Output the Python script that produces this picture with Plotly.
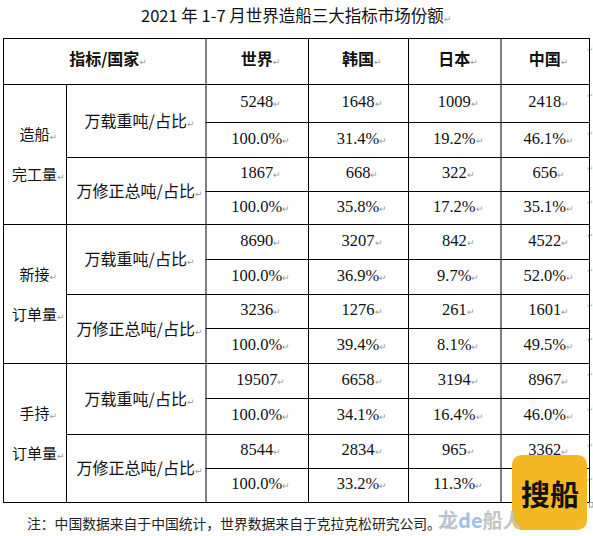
import plotly.graph_objects as go

# ---------------- data ----------------
title_text = "2021 年 1-7 月世界造船三大指标市场份额"
header_label = "指标/国家"
countries = ["世界", "韩国", "日本", "中国"]
group_labels = [["造船", "完工量"], ["新接", "订单量"], ["手持", "订单量"]]
unit_labels = ["万载重吨/占比", "万修正总吨/占比"]

# rows: 完工量-载重吨, 完工量-修正总吨, 新接-载重吨, 新接-修正总吨, 手持-载重吨, 手持-修正总吨
tonnage = [
    [5248, 1648, 1009, 2418],
    [1867, 668, 322, 656],
    [8690, 3207, 842, 4522],
    [3236, 1276, 261, 1601],
    [19507, 6658, 3194, 8967],
    [8544, 2834, 965, 3362],
]
share_pct = [
    [100.0, 31.4, 19.2, 46.1],
    [100.0, 35.8, 17.2, 35.1],
    [100.0, 36.9, 9.7, 52.0],
    [100.0, 39.4, 8.1, 49.5],
    [100.0, 34.1, 16.4, 46.0],
    [100.0, 33.2, 11.3, 39.3],
]
footnote = "注：中国数据来自于中国统计，世界数据来自于克拉克松研究公司。"
watermark_parts = [("龙", "#b9c3d2"), ("de", "#9cc0ea"), ("船人", "#c4c4c4")]
logo_text = "搜船"

# ---------------- layout geometry ----------------
W, H = 593, 536
col_edges = [3, 66, 205.5, 308, 408, 500.5, 589]
table_top = 38
row_edges = [84, 122, 157, 191, 224, 259, 294, 328, 363, 398, 434, 468, 502]

CJK = "Noto Sans CJK SC, DejaVu Sans, sans-serif"
NUM = "Liberation Serif, Noto Sans CJK SC, serif"
MARK = '<span style="font-size:9px;color:#9a9a9a">↵</span>'
GHOST = '<span style="font-size:9px;color:rgba(0,0,0,0)">↵</span>'


def cell(s):
    return GHOST + s + MARK


fig = go.Figure()

# ---------------- value cells ----------------
col_centers = [(col_edges[k] + col_edges[k + 1]) / 2 for k in range(2, 6)]
xs, ys, ts = [], [], []
for i in range(len(tonnage)):
    for kind, row_vals in ((0, tonnage[i]), (1, share_pct[i])):
        r = 2 * i + kind
        yc = (row_edges[r] + row_edges[r + 1]) / 2
        for j, v in enumerate(row_vals):
            xs.append(col_centers[j])
            ys.append(yc)
            ts.append(cell(f"{v}" if kind == 0 else f"{v:.1f}%"))
fig.add_trace(go.Scatter(x=xs, y=ys, text=ts, mode="text", textposition="middle center",
                         textfont=dict(family=NUM, size=16.5, color="#111"),
                         hoverinfo="skip", showlegend=False, cliponaxis=False))

# header row
hy = (table_top + row_edges[0]) / 2
fig.add_trace(go.Scatter(
    x=[(col_edges[0] + col_edges[2]) / 2] + col_centers,
    y=[hy] * 5,
    text=[cell("<b>" + header_label + "</b>")] + [cell("<b>" + c + "</b>") for c in countries],
    mode="text", textposition="middle center",
    textfont=dict(family=CJK, size=16, color="#111"),
    hoverinfo="skip", showlegend=False, cliponaxis=False))

# group labels (two lines each)
gx, gy, gt = [], [], []
for g, (l1, l2) in enumerate(group_labels):
    mid = (row_edges[4 * g] + row_edges[4 * g + 4]) / 2
    gx += [(col_edges[0] + col_edges[1]) / 2] * 2
    gy += [mid - 17.5, mid + 22.5]
    gt += [cell(l1), cell(l2)]
fig.add_trace(go.Scatter(x=gx, y=gy, text=gt, mode="text", textposition="middle center",
                         textfont=dict(family=CJK, size=15, color="#111"),
                         hoverinfo="skip", showlegend=False, cliponaxis=False))

# unit labels
ux, uy, ut = [], [], []
for g in range(len(group_labels)):
    for u, lab in enumerate(unit_labels):
        r = 4 * g + 2 * u
        ux.append((col_edges[1] + col_edges[2]) / 2)
        uy.append((row_edges[r] + row_edges[r + 2]) / 2 + 2)
        ut.append(cell(lab))
fig.add_trace(go.Scatter(x=ux, y=uy, text=ut, mode="text", textposition="middle center",
                         textfont=dict(family=CJK, size=16, color="#111"),
                         hoverinfo="skip", showlegend=False, cliponaxis=False))

# end-of-row marks at right edge
fig.add_trace(go.Scatter(x=[593] * 13, y=[table_top + 12] + [e + 12 for e in row_edges[:-1]],
                         text=["↵"] * 13, mode="text", textposition="middle left",
                         textfont=dict(family=CJK, size=7, color="#aaa"),
                         hoverinfo="skip", showlegend=False, cliponaxis=False))

# ---------------- grid lines ----------------
shapes = []
LINE = dict(color="#000", width=1)


def hline(y, x0, x1):
    shapes.append(dict(type="line", xref="x", yref="y", x0=x0, x1=x1, y0=y + 0.5, y1=y + 0.5,
                       line=LINE, layer="above"))


def vline(x, y0, y1):
    shapes.append(dict(type="line", xref="x", yref="y", x0=x + 0.5, x1=x + 0.5, y0=y0, y1=y1,
                       line=LINE, layer="above"))


L, R = col_edges[0], col_edges[-1]
B = row_edges[-1]
hline(table_top, L, R)
hline(row_edges[0], L, R)
hline(B, L, R)
for g in (4, 8):
    hline(row_edges[g], L, R)
for g in (2, 6, 10):
    hline(row_edges[g], col_edges[1], R)
for r in (1, 3, 5, 7, 9, 11):
    hline(row_edges[r], col_edges[2], R)
vline(L, table_top, B + 0.5)
vline(R, table_top, B + 0.5)
vline(col_edges[1], row_edges[0], B)
for c in col_edges[2:6]:
    vline(c, table_top, B)
shapes.append(dict(type="rect", xref="x", yref="y", x0=589.5, x1=593, y0=502.5, y1=507,
                   line=dict(color="#999", width=1), layer="above"))

# logo box (drawn over the table)
x0, x1, y0, y1, rr = 512, 587, 455, 530, 11
path = (f"M {x0+rr},{y0} L {x1-rr},{y0} Q {x1},{y0} {x1},{y0+rr} L {x1},{y1-rr} "
        f"Q {x1},{y1} {x1-rr},{y1} L {x0+rr},{y1} Q {x0},{y1} {x0},{y1-rr} "
        f"L {x0},{y0+rr} Q {x0},{y0} {x0+rr},{y0} Z")
shapes.append(dict(type="path", xref="x", yref="y", path=path, fillcolor="#F3B823",
                   line=dict(width=0), layer="above"))

# ---------------- annotations ----------------
annotations = [
    dict(x=W / 2 - 0.5, y=15, xref="x", yref="y", text=title_text + MARK, showarrow=False,
         font=dict(family=CJK, size=16.5, color="#111"), xanchor="center", yanchor="middle"),
    dict(x=25, y=523, xref="x", yref="y", text=footnote + MARK, showarrow=False,
         font=dict(family=CJK, size=13.8, color="#222"), xanchor="left", yanchor="middle"),
    dict(x=436, y=519, xref="x", yref="y",
         text="".join(f'<span style="color:{c}">{t}</span>' for t, c in watermark_parts),
         showarrow=False, font=dict(family=CJK, size=20, color="#bbb", weight="bold"),
         xanchor="left", yanchor="middle"),
    dict(x=(x0 + x1) / 2, y=(y0 + y1) / 2, xref="x", yref="y", text=logo_text, showarrow=False,
         font=dict(family=CJK, size=29, color="#111", weight="bold"),
         xanchor="center", yanchor="middle"),
]

fig.update_layout(
    width=W, height=H, autosize=False,
    margin=dict(l=0, r=0, t=0, b=0, pad=0),
    paper_bgcolor="white", plot_bgcolor="white",
    xaxis=dict(range=[0, W], visible=False, fixedrange=True),
    yaxis=dict(range=[H, 0], visible=False, fixedrange=True),
    shapes=shapes, annotations=annotations, showlegend=False,
)

fig.write_html("out.html", config={"displayModeBar": False},
               post_script="document.body.style.margin='0';document.body.style.overflow='hidden';")
